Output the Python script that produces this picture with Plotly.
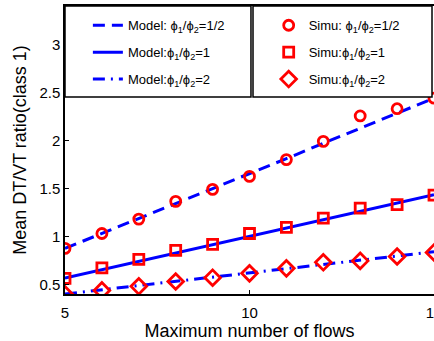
import plotly.graph_objects as go

# Maximum number of flows
flows = [5, 6, 7, 8, 9, 10, 11, 12, 13, 14, 15]

# Analytical model, mean DT/VT ratio of class 1
model_half = [0.875, 1.03, 1.19, 1.345, 1.50, 1.655, 1.81, 1.97, 2.125, 2.28, 2.44]
model_one = [0.565, 0.652, 0.739, 0.826, 0.913, 1.0, 1.087, 1.174, 1.261, 1.348, 1.435]
model_two = [0.40, 0.444, 0.488, 0.532, 0.576, 0.62, 0.664, 0.708, 0.752, 0.796, 0.84]

# Simulation results
simu_half = [0.875, 1.03, 1.18, 1.365, 1.49, 1.625, 1.80, 1.99, 2.255, 2.33, 2.44]
simu_one = [0.5625, 0.672, 0.76, 0.854, 0.917, 1.03, 1.094, 1.19, 1.295, 1.33, 1.43]
simu_two = [0.396, 0.4375, 0.48, 0.53, 0.57, 0.615, 0.667, 0.73, 0.745, 0.79, 0.833]

x_ticks = [5, 10, 15]
y_ticks = [0.5, 1, 1.5, 2, 2.5, 3]

BLUE = "#0000ff"
RED = "#ff0000"
PHI = "\u03d5"
FONT = "Liberation Sans, Arial"


def ratio_label(prefix, value):
    return f"{prefix}{PHI}<sub>1</sub>/{PHI}<sub>2</sub>={value}"


fig = go.Figure()

model_specs = [
    (model_half, "12px,7px", ratio_label("Model: ", "1/2")),
    (model_one, "solid", ratio_label("Model:", "1")),
    (model_two, "12px,6px,2px,6px", ratio_label("Model:", "2")),
]
for i, (vals, dash, name) in enumerate(model_specs):
    fig.add_trace(go.Scatter(
        x=flows, y=vals, mode="lines", name=name,
        line=dict(color=BLUE, width=3, dash=dash),
        legend="legend", legendgroup=f"m{i}",
    ))

simu_specs = [
    (simu_half, "circle-open", 10, ratio_label("Simu: ", "1/2")),
    (simu_one, "square-open", 10, ratio_label("Simu:", "1")),
    (simu_two, "diamond-open", 12, ratio_label("Simu:", "2")),
]
for i, (vals, sym, size, name) in enumerate(simu_specs):
    fig.add_trace(go.Scatter(
        x=flows, y=vals, mode="markers", name=name,
        marker=dict(symbol=sym, size=size, color=RED, line=dict(width=2.8, color=RED)),
        legend="legend2", legendgroup=f"s{i}",
    ))

axis_common = dict(
    showline=True, linecolor="black", linewidth=1.5, mirror=True,
    ticks="inside", ticklen=4, tickcolor="black", showgrid=False, zeroline=False,
    tickfont=dict(family=FONT, size=15, color="black"), automargin=False,
)

legend_font = dict(family=FONT, size=13, color="black")
title_font = dict(family=FONT, size=18, color="black")

fig.update_layout(
    width=434, height=341,
    margin=dict(l=65, r=0, t=6, b=47),
    paper_bgcolor="white", plot_bgcolor="white",
    xaxis=dict(range=[5, 15], tickvals=x_ticks, ticktext=[str(v) for v in x_ticks],
               ticklabeloverflow="allow", ticklabelstandoff=4,
               title=dict(text="Maximum number of flows", standoff=2, font=title_font),
               **axis_common),
    yaxis=dict(range=[0.4, 3.4], tickvals=y_ticks, ticktext=["0.5", "1", "1.5", "2", "2.5", "3"],
               title=dict(text="Mean DT/VT ratio(class 1)", standoff=8, font=title_font),
               **axis_common),
    legend=dict(x=0.062, y=0.985, xanchor="left", yanchor="top",
                bgcolor="rgba(0,0,0,0)", borderwidth=0, font=legend_font,
                tracegroupgap=7),
    legend2=dict(x=0.552, y=0.985, xanchor="left", yanchor="top",
                 bgcolor="rgba(0,0,0,0)", borderwidth=0, font=legend_font,
                 tracegroupgap=7),
    shapes=[
        dict(type="rect", xref="paper", yref="paper", x0=0.0, x1=0.504, y0=0.684, y1=1.0,
             line=dict(color="black", width=1.5), fillcolor="white", layer="above"),
        dict(type="rect", xref="paper", yref="paper", x0=0.5095, x1=0.9946, y0=0.684, y1=1.0,
             line=dict(color="black", width=1.5), fillcolor="white", layer="above"),
    ],
)

fig.write_html("out.html")
